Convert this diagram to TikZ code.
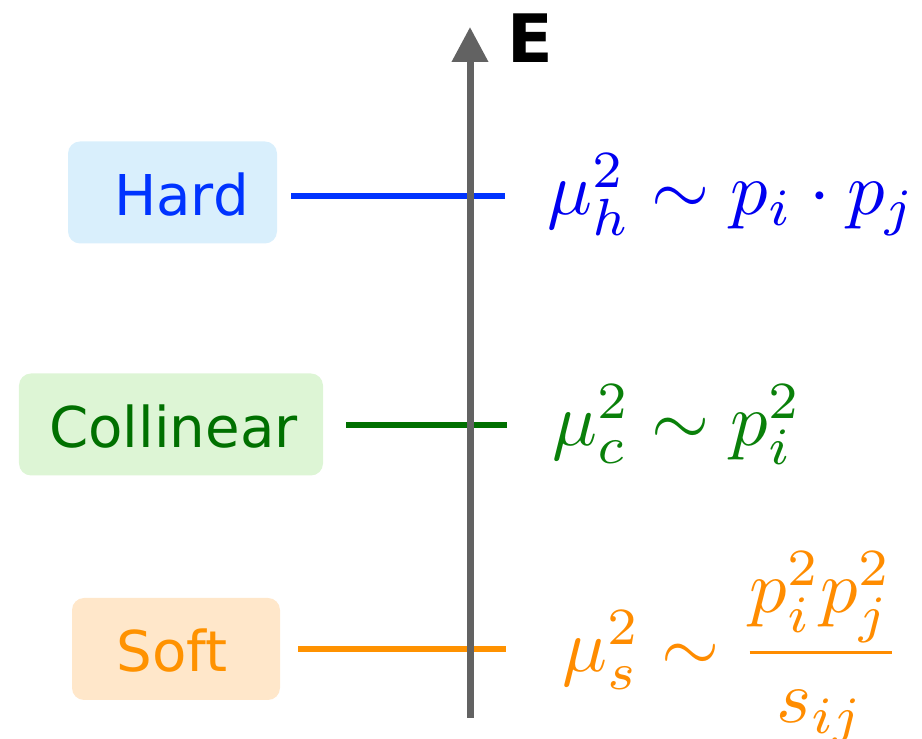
\documentclass[tikz,border=0pt]{standalone}
\usepackage{amsmath}
\usepackage[no-math]{fontspec}
\usepackage{xcolor}
\usepackage{tikz}
\usetikzlibrary{arrows.meta}

\newfontfamily\boxfont{DejaVu Sans}

\definecolor{hardblue}{HTML}{0033FF}
\definecolor{collgreen}{HTML}{007000}
\definecolor{softorange}{HTML}{FF9200}
\definecolor{hardmath}{HTML}{0000F0}
\definecolor{collmath}{HTML}{0A800A}
\definecolor{softmath}{HTML}{FF8C00}
\definecolor{hardfill}{HTML}{D9EFFC}
\definecolor{collfill}{HTML}{DDF5D5}
\definecolor{softfill}{HTML}{FFE7CA}
\definecolor{axisgray}{HTML}{626262}

\tikzset{
    levelbox/.style={rectangle, rounded corners=0.24cm, draw=none, minimum height=2.04cm, inner sep=0pt},
    levellabel/.style={anchor=base, inner sep=0pt, font=\boxfont\fontsize{32}{38}\selectfont},
    levelline/.style={line width=0.12cm},
    axis/.style={line width=0.14cm, draw=axisgray, -{Triangle[width=0.7cm,length=0.7cm]}},
    formula/.style={anchor=base west, inner sep=0pt, scale=4.25}
}

\begin{document}
\begin{tikzpicture}
            \useasboundingbox (0,0) rectangle (18.44,14.78);

            \node[levelbox, fill=hardfill, minimum width=4.18cm] (b1) at (3.45,10.93) {};
            \node[levelbox, fill=collfill, minimum width=6.08cm] (b2) at (3.42,6.29) {};
            \node[levelbox, fill=softfill, minimum width=4.16cm] (b3) at (3.52,1.80) {};

            \node[levellabel, text=hardblue] (l1) at (3.63,10.46) {Hard};
            \node[levellabel, text=collgreen] (l2) at (3.47,5.82) {Collinear};
            \node[levellabel, text=softorange] (l3) at (3.44,1.34) {Soft};

            \coordinate (h1) at (5.82,10.86);
            \coordinate (h2) at (10.10,10.86);
            \coordinate (c1) at (6.92,6.28);
            \coordinate (c2) at (10.14,6.28);
            \coordinate (s1) at (5.96,1.80);
            \coordinate (s2) at (10.12,1.80);

            \draw[levelline, hardblue] (h1) -- (h2);
            \draw[levelline, collgreen] (c1) -- (c2);
            \draw[levelline, softorange] (s1) -- (s2);

            \coordinate (e0) at (9.40,0.42);
            \coordinate (e1) at (9.40,14.24);
            \draw[axis] (e0) -- (e1);
            \node[anchor=base, inner sep=0pt, font=\boxfont\bfseries\fontsize{38}{46}\selectfont] (E) at (10.60,13.52) {E};

            \node[formula, text=hardmath] (f1) at (10.92,10.49) {$\mu_h^2 \sim p_i \cdot p_j$};
            \node[formula, text=collmath] (f2) at (11.02,5.87) {$\mu_c^2 \sim p_i^2$};
            \node[formula, text=softmath] (f3) at (11.22,1.35) {$\mu_s^2 \sim \dfrac{p_i^2 p_j^2}{s_{ij}}$};
        \end{tikzpicture}
\end{document}
